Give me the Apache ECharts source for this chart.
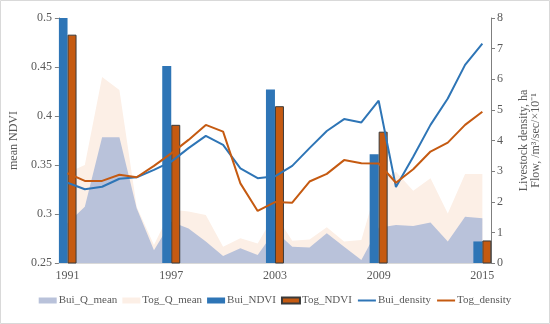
<!DOCTYPE html>
<html><head><meta charset="utf-8">
<script src="https://cdn.jsdelivr.net/npm/echarts@6/dist/echarts.min.js"></script>
<style>html,body{margin:0;padding:0;background:#fff}#c{width:550px;height:324px}</style>
</head><body><div id="c"></div>
<script>
const years = ['1991','1992','1993','1994','1995','1996','1997','1998','1999','2000','2001','2002','2003','2004','2005','2006','2007','2008','2009','2010','2011','2012','2013','2014','2015'];
const buiNDVI = [0.5,null,null,null,null,null,0.451,null,null,null,null,null,0.427,null,null,null,null,null,0.361,null,null,null,null,null,0.272];
const togNDVI = [0.483,null,null,null,null,null,0.391,null,null,null,null,null,0.410,null,null,null,null,null,0.384,null,null,null,null,null,0.273];
const buiDensity = [2.62,2.41,2.49,2.75,2.80,3.04,3.31,3.75,4.15,3.86,3.09,2.77,2.83,3.17,3.75,4.31,4.70,4.59,5.30,2.48,3.47,4.51,5.37,6.47,7.16];
const togDensity = [2.93,2.68,2.68,2.88,2.80,3.17,3.58,4.02,4.51,4.29,2.60,1.70,1.99,1.97,2.66,2.91,3.36,3.26,3.25,2.62,3.06,3.64,3.93,4.51,4.94];
const buiQmean = [1.3,1.84,4.11,4.11,1.79,0.42,1.35,1.13,0.70,0.23,0.48,0.26,1.05,0.53,0.51,0.97,0.53,0.10,1.15,1.24,1.21,1.32,0.70,1.51,1.46];
const togQmean = [2.95,3.2,6.07,5.65,1.84,0.59,1.75,1.68,1.57,0.53,0.81,0.64,1.6,0.73,0.77,1.17,0.70,0.75,2.7,2.98,2.36,2.77,1.62,2.91,2.91];
const leftTicks = {min:0.25, max:0.5, interval:0.05};
const rightTicks = {min:0, max:8, interval:1};

const FONT = 'Liberation Serif';
const TXT = '#595959';
const chart = echarts.init(document.getElementById('c'));
chart.setOption({
  animation:false,
  textStyle:{fontFamily:FONT},
  graphic:[{type:'rect',shape:{x:0.5,y:0.5,width:549,height:323},style:{fill:'none',stroke:'#d9d9d9',lineWidth:1},silent:true}],
  grid:{left:57,right:53,top:18,bottom:61},
  legend:{
    top:290,left:'center',itemWidth:18,itemHeight:6,itemGap:5,
    textStyle:{fontFamily:FONT,fontSize:11,color:TXT,padding:[0,0,0,-3]},
    data:[{name:'Bui_Q_mean',icon:'rect'},{name:'Tog_Q_mean',icon:'rect'},{name:'Bui_NDVI',icon:'rect'},{name:'Tog_NDVI',icon:'rect'},
      {name:'Bui_density',itemStyle:{opacity:0}},{name:'Tog_density',itemStyle:{opacity:0}}]
  },
  xAxis:{
    type:'category',data:years,
    axisLine:{lineStyle:{color:'#d9d9d9'}},
    axisTick:{show:false},
    axisLabel:{interval:5,color:TXT,fontFamily:FONT,fontSize:12,margin:7}
  },
  yAxis:[{
    type:'value',min:leftTicks.min,max:leftTicks.max,interval:leftTicks.interval,
    name:'mean NDVI',nameLocation:'middle',nameGap:33,
    nameTextStyle:{fontFamily:FONT,fontSize:12,color:TXT},
    axisLine:{show:true,lineStyle:{color:'#7f7f7f'}},
    axisTick:{show:true,length:4,lineStyle:{color:'#7f7f7f'}},
    splitLine:{show:false},
    axisLabel:{color:TXT,fontFamily:FONT,fontSize:12,margin:7,formatter:v=>String(+v.toFixed(2))}
  },{
    type:'value',min:rightTicks.min,max:rightTicks.max,interval:rightTicks.interval,position:'right',
    name:'Livestock density, ha\nFlow, /m³/sec/×10⁻¹',nameLocation:'middle',nameGap:27,nameRotate:90,
    nameTextStyle:{fontFamily:FONT,fontSize:12,color:TXT,lineHeight:12},
    axisLine:{show:true,lineStyle:{color:'#7f7f7f'}},
    axisTick:{show:true,length:4,lineStyle:{color:'#7f7f7f'}},
    splitLine:{show:false},
    axisLabel:{color:TXT,fontFamily:FONT,fontSize:12,margin:6}
  }],
  series:[
    {name:'Bui_Q_mean',type:'line',yAxisIndex:1,data:buiQmean,symbol:'none',z:1,
     itemStyle:{color:'#b9c2da'},lineStyle:{width:0},areaStyle:{color:'#b9c2da',opacity:1}},
    {name:'Tog_Q_mean',type:'line',yAxisIndex:1,data:togQmean,symbol:'none',z:0,
     itemStyle:{color:'#fcefe6'},lineStyle:{width:0},areaStyle:{color:'#fcefe6',opacity:1}},
    {name:'Bui_NDVI',type:'bar',yAxisIndex:0,data:buiNDVI,barWidth:9,barGap:'0%',z:3,
     itemStyle:{color:'#2e75b6'}},
    {name:'Tog_NDVI',type:'bar',yAxisIndex:0,data:togNDVI,barWidth:9,barGap:'0%',z:3,
     itemStyle:{color:'#c55a11',borderColor:'#3a3a3a',borderWidth:1}},
    {name:'Bui_density',type:'line',yAxisIndex:1,data:buiDensity,symbol:'none',z:5,
     itemStyle:{color:'#2e75b6'},lineStyle:{width:2,color:'#2e75b6'}},
    {name:'Tog_density',type:'line',yAxisIndex:1,data:togDensity,symbol:'none',z:5,
     itemStyle:{color:'#c55a11'},lineStyle:{width:2,color:'#c55a11'}}
  ]
});
</script></body></html>
